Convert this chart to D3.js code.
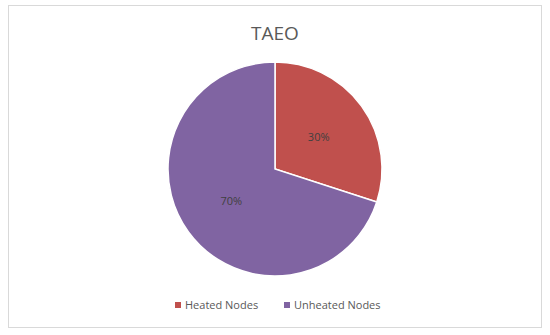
<!DOCTYPE html>
<html>
<head>
<meta charset="utf-8">
<script src="https://cdn.jsdelivr.net/npm/d3@7"></script>
<style>
  body { margin: 0; background: #fff; }
  svg { font-family: "Open Sans", "Noto Sans", sans-serif; }
</style>
</head>
<body>
<div id="chart"></div>
<script>
var width = 550;
var height = 335;

var categories = ["Heated Nodes", "Unheated Nodes"];
var values = [30, 70];
var colors = ["#C0504D", "#8064A2"];

var svg = d3.select("#chart")
  .append("svg")
  .attr("width", width)
  .attr("height", height);

// chart frame
svg.append("rect")
  .attr("x", 8.5).attr("y", 5.5)
  .attr("width", 533).attr("height", 322)
  .attr("fill", "#fff")
  .attr("stroke", "#d9d9d9");

svg.append("text")
  .attr("x", 275).attr("y", 40)
  .attr("text-anchor", "middle")
  .attr("font-size", 19)
  .attr("fill", "#595959")
  .text("TAEO");

var radius = 107;
var cx = 275, cy = 169;

var pie = d3.pie().sort(null).value(function(d) { return d; });
var arc = d3.arc().innerRadius(0).outerRadius(radius);
var labelArc = d3.arc().innerRadius(radius * 0.505).outerRadius(radius * 0.505);

var color = d3.scaleOrdinal().domain(categories).range(colors);
var arcs = pie(values);

var g = svg.append("g").attr("transform", "translate(" + cx + "," + cy + ")");

g.selectAll("path")
  .data(arcs)
  .enter()
  .append("path")
  .attr("d", arc)
  .attr("fill", function(d, i) { return color(categories[i]); })
  .attr("stroke", "#fff")
  .attr("stroke-width", 1.5);

var total = d3.sum(values);
g.selectAll("text")
  .data(arcs)
  .enter()
  .append("text")
  .attr("transform", function(d) { return "translate(" + labelArc.centroid(d) + ")"; })
  .attr("text-anchor", "middle")
  .attr("dy", "0.35em")
  .attr("font-size", 11)
  .attr("fill", "#404040")
  .text(function(d) { return Math.round(d.value / total * 100) + "%"; });

// legend
var legendX = [175, 284];
var legend = svg.selectAll(".legend")
  .data(categories)
  .enter()
  .append("g")
  .attr("class", "legend")
  .attr("transform", function(d, i) { return "translate(" + legendX[i] + ",302)"; });

legend.append("rect")
  .attr("width", 6).attr("height", 6)
  .attr("fill", function(d) { return color(d); });

legend.append("text")
  .attr("x", 10).attr("y", 3)
  .attr("dy", "0.35em")
  .attr("font-size", 11)
  .attr("fill", "#595959")
  .text(function(d) { return d; });
</script>
</body>
</html>
